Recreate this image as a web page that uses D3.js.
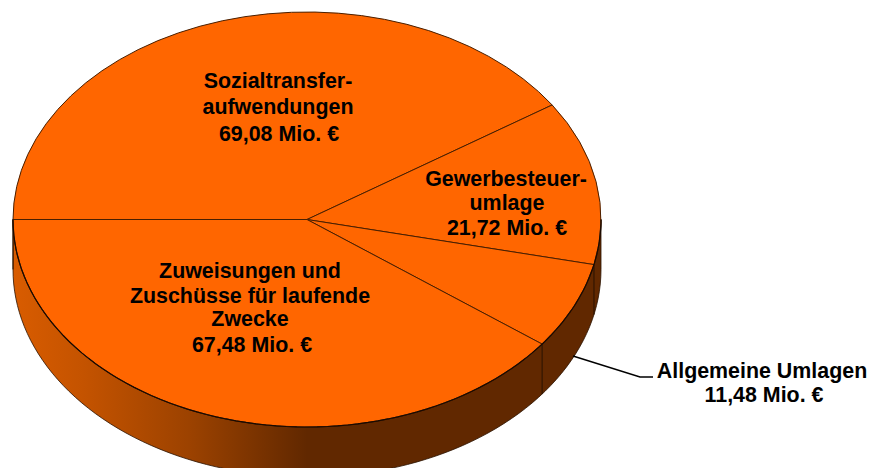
<!DOCTYPE html>
<html><head><meta charset="utf-8">
<script src="https://cdnjs.cloudflare.com/ajax/libs/d3/7.8.5/d3.min.js"></script>
<style>html,body{margin:0;padding:0;background:#fff}svg{display:block}text{font-family:"Liberation Sans",Arial,sans-serif;font-weight:700;font-size:21.4px;fill:#000;text-anchor:middle}</style>
</head><body><div id="c"></div>
<script>
const categories=["Sozialtransfer-|aufwendungen","Gewerbesteuer-|umlage","Allgemeine Umlagen","Zuweisungen und|Zuschüsse für laufende|Zwecke"];
const values=[69.08,21.72,11.48,67.48];
const valueLabels=["69,08 Mio. €","21,72 Mio. €","11,48 Mio. €","67,48 Mio. €"];
const W=873,H=468,cx=307,cy=219.5,rx=294,ry=207.5,depth=50;
const svg=d3.select("#c").append("svg").attr("width",W).attr("height",H);
const defs=svg.append("defs");
const g=defs.append("linearGradient").attr("id","side").attr("gradientUnits","userSpaceOnUse").attr("x1",cx-rx).attr("x2",cx+rx).attr("y1",0).attr("y2",0);
[[0,"#d95c00"],[0.12,"#c45300"],[0.3,"#9c4200"],[0.5,"#612800"],[1,"#612800"]].forEach(d=>g.append("stop").attr("offset",d[0]).attr("stop-color",d[1]));
const pie=d3.pie().sort(null).startAngle(-Math.PI/2).endAngle(1.5*Math.PI)(values);
const px=a=>cx+rx*Math.sin(a), py=a=>cy-ry*Math.cos(a);
const lower=d3.range(0,181,2).map(t=>{const a=Math.PI/2+t*Math.PI/180;return [px(a),py(a)];});
const wall=[...lower,...lower.slice().reverse().map(p=>[p[0],p[1]+depth])];
svg.append("path").attr("d",d3.line()(wall)+"Z").attr("fill","url(#side)").attr("stroke","#2a1200").attr("stroke-width",0.8);
pie.map(d=>d.endAngle).filter(a=>Math.cos(a)<0).forEach(a=>{
  svg.append("line").attr("x1",px(a)).attr("x2",px(a)).attr("y1",py(a)).attr("y2",py(a)+depth).attr("stroke","#2a1200").attr("stroke-width",1);
});
const arc=d3.arc().innerRadius(0).outerRadius(rx);
svg.append("g").attr("transform",`translate(${cx},${cy}) scale(1,${ry/rx})`).selectAll("path").data(pie).join("path")
  .attr("d",arc).attr("fill","#ff6600").attr("stroke","#4a1f00").attr("stroke-width",1).attr("vector-effect","non-scaling-stroke");
svg.append("path").attr("d",d3.line()(lower)).attr("fill","none").attr("stroke","#1a0a00").attr("stroke-width",1.2);
const lab=[[[278,278,279],[88,114,141]],[[506,507,507],[186,210,235]],[[762,764],[378,402]],[[250,250,250,252],[278,303,326,352]]];
values.forEach((v,i)=>{
  const lines=categories[i].split("|").concat(valueLabels[i]);
  svg.append("g").selectAll("text").data(lines).join("text").attr("x",(d,j)=>lab[i][0][j]).attr("y",(d,j)=>lab[i][1][j]).text(d=>d);
});
svg.append("path").attr("d",d3.line()([[573,356],[640,377],[653,377]])).attr("fill","none").attr("stroke","#000").attr("stroke-width",1.4);
</script></body></html>
